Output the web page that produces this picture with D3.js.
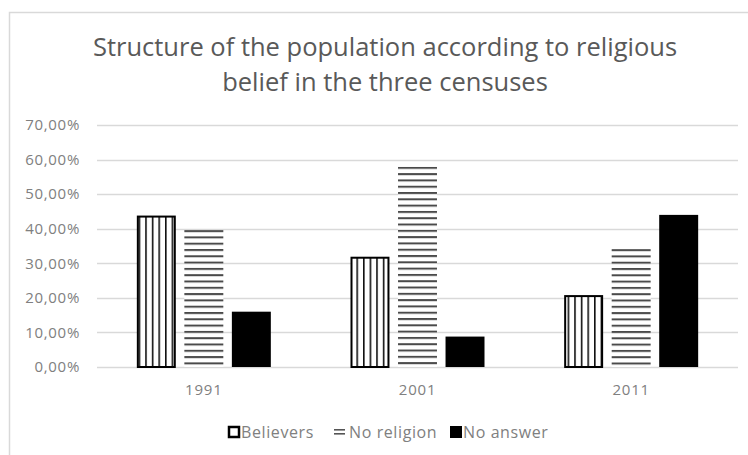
<!DOCTYPE html>
<html><head><meta charset="utf-8">
<script src="https://cdn.jsdelivr.net/npm/d3@7"></script>
<style>html,body{margin:0;padding:0;background:#fff;}svg{display:block;}</style>
</head><body>
<svg id="chart" width="748" height="455"></svg>
<script>
const titleLines = ["Structure of the population according to religious", "belief in the three censuses"];
const years = ["1991", "2001", "2011"];
const seriesNames = ["Believers", "No religion", "No answer"];
const believers = [43.8, 31.9, 20.8];
const noReligion = [39.6, 57.9, 34.1];
const noAnswer = [16.0, 8.8, 44.0];
const yTicks = [0, 10, 20, 30, 40, 50, 60, 70];

const seriesValues = [believers, noReligion, noAnswer];
const svg = d3.select("#chart");
const font = "'Open Sans', sans-serif";

const x = d3.scaleBand().domain(years).range([97, 738]);
const y = d3.scaleLinear().domain([0, 70]).range([367, 125]);
const inner = d3.scaleBand().domain(seriesNames).range([0, 134]).paddingInner(0.18);

// defs / patterns
const defs = svg.append("defs");
const pv = defs.append("pattern").attr("id", "pv").attr("patternUnits", "userSpaceOnUse")
  .attr("width", 6.6).attr("height", 10);
pv.append("rect").attr("width", 6.6).attr("height", 10).attr("fill", "#fff");
pv.append("rect").attr("x", 0).attr("width", 1.6).attr("height", 10).attr("fill", "#111");
// horizontal stripes, one pattern per bar so that a stripe starts at the bar top
years.forEach((yr, i) => {
  const ph = defs.append("pattern").attr("id", "ph" + i).attr("patternUnits", "userSpaceOnUse")
    .attr("x", 0).attr("y", y(noReligion[i])).attr("width", 10).attr("height", 6.3);
  ph.append("rect").attr("width", 10).attr("height", 6.3).attr("fill", "#fff");
  ph.append("rect").attr("y", 0).attr("width", 10).attr("height", 2).attr("fill", "#4a4a4a");
});

// outer frame
svg.append("rect").attr("x", 9.5).attr("y", 12.5).attr("width", 760).attr("height", 460)
  .attr("fill", "none").attr("stroke", "#d9d9d9").attr("stroke-width", 1.5);

// title
const t = svg.append("text").attr("text-anchor", "middle").attr("fill", "#595959")
  .style("font-family", font).style("font-size", "25.5px");
titleLines.forEach((l, i) => {
  t.append("tspan").attr("x", 385).attr("y", 56 + i * 35).text(l);
});

// gridlines
svg.append("g").selectAll("line").data(yTicks).join("line")
  .attr("x1", 97).attr("x2", 738)
  .attr("y1", d => Math.round(y(d)) + 0.5).attr("y2", d => Math.round(y(d)) + 0.5)
  .attr("stroke", "#d9d9d9").attr("stroke-width", 1.5);

// y axis labels
const yAxis = d3.axisLeft(y).tickValues(yTicks).tickSize(0).tickPadding(0)
  .tickFormat(d => d3.format(".2f")(d).replace(".", ",") + "%");
const yg = svg.append("g").attr("transform", "translate(80,0)").call(yAxis);
yg.select(".domain").remove();
yg.selectAll("text").attr("fill", "#808080").style("font-family", font)
  .style("font-size", "15px").style("letter-spacing", "0.7px");

// x axis labels
const xAxis = d3.axisBottom(x).tickSize(0).tickPadding(0);
const xg = svg.append("g").attr("transform", "translate(0,384)").call(xAxis);
xg.select(".domain").remove();
xg.selectAll("text").attr("fill", "#808080").style("font-family", font)
  .style("font-size", "15px").style("letter-spacing", "0.8px");

// bars
const strokes = ["#000", "none", "#000"];
seriesNames.forEach((s, si) => {
  svg.append("g").selectAll("rect").data(years).join("rect")
    .attr("x", (d) => x(d) + x.bandwidth() / 2 - 67 + inner(s) + (si === 0 ? 1 : 0))
    .attr("y", (d, i) => y(seriesValues[si][i]) + (si === 0 ? 1 : 0))
    .attr("width", inner.bandwidth() - (si === 0 ? 2 : 0))
    .attr("height", (d, i) => y(0) - y(seriesValues[si][i]) - (si === 0 ? 1 : 0))
    .attr("fill", (d, i) => si === 0 ? "url(#pv)" : si === 1 ? `url(#ph${i})` : "#000")
    .attr("stroke", strokes[si]).attr("stroke-width", si === 0 ? 2 : 0);
});

// legend
const legend = svg.append("g").attr("transform", "translate(0,438)");
const legX = [228, 333, 450];
seriesNames.forEach((s, i) => {
  const g = legend.append("g").attr("transform", `translate(${legX[i]},0)`);
  if (i === 0) {
    g.append("rect").attr("x", 1).attr("y", -11).attr("width", 10).attr("height", 10)
      .attr("fill", "#fff").attr("stroke", "#000").attr("stroke-width", 2.5);
  } else if (i === 1) {
    g.append("rect").attr("x", 1).attr("y", -9).attr("width", 11).attr("height", 1.6).attr("fill", "#555");
    g.append("rect").attr("x", 1).attr("y", -5).attr("width", 11).attr("height", 1.6).attr("fill", "#555");
  } else {
    g.append("rect").attr("x", 0).attr("y", -12).attr("width", 12).attr("height", 12).attr("fill", "#000");
  }
  g.append("text").attr("x", i === 1 ? 16 : 13).attr("y", 0).attr("fill", "#808080")
    .style("font-family", font).style("font-size", "16px").style("letter-spacing", "0.6px").text(s);
});
</script>
</body></html>
